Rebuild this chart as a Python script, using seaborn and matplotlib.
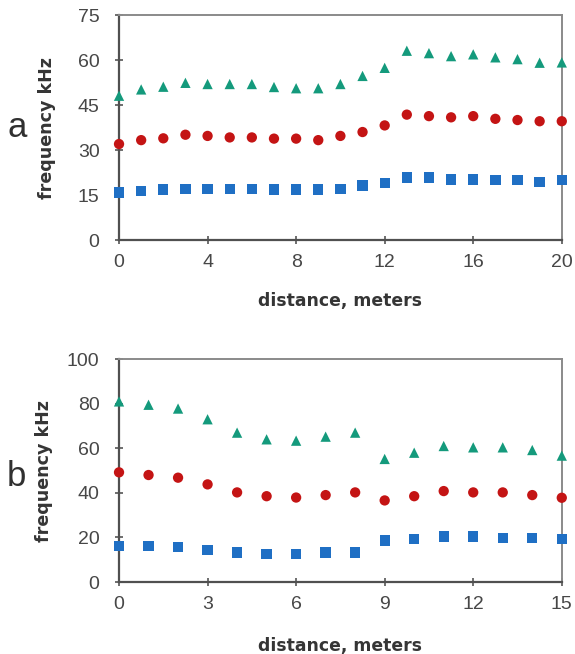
import numpy as np
import pandas as pd
import matplotlib
matplotlib.use("Agg")
import matplotlib.pyplot as plt
import seaborn as sns

# ---- data ----
dist_a = list(range(0, 21))
tri_a = [48.1, 50.2, 51.1, 52.4, 52.0, 52.0, 52.0, 51.0, 50.6, 50.6, 52.0, 54.7,
         57.4, 63.1, 62.3, 61.3, 61.9, 60.9, 60.3, 59.1, 59.2]
cir_a = [32.0, 33.3, 33.9, 35.1, 34.7, 34.2, 34.2, 33.8, 33.8, 33.3, 34.7, 36.0,
         38.2, 41.8, 41.3, 40.9, 41.3, 40.4, 40.0, 39.6, 39.6]
sq_a = [15.8, 16.3, 16.8, 17.1, 17.1, 17.1, 17.1, 16.8, 16.8, 16.8, 17.1, 18.2,
        19.0, 20.8, 20.8, 20.2, 20.2, 19.9, 19.9, 19.4, 19.9]

dist_b = list(range(0, 16))
tri_b = [81.0, 79.5, 77.8, 73.0, 67.0, 64.0, 63.4, 65.2, 67.0, 55.2, 58.0, 61.0,
         60.4, 60.4, 59.2, 56.7]
cir_b = [49.2, 48.0, 46.8, 43.8, 40.2, 38.5, 37.9, 39.0, 40.2, 36.6, 38.5, 40.8,
         40.2, 40.2, 39.0, 37.8]
sq_b = [16.2, 16.2, 15.6, 14.4, 13.2, 12.6, 12.6, 13.2, 13.2, 18.6, 19.2, 20.4,
        20.4, 19.8, 19.8, 19.2]

xticks_a = [0, 4, 8, 12, 16, 20]
yticks_a = [0, 15, 30, 45, 60, 75]
xticks_b = [0, 3, 6, 9, 12, 15]
yticks_b = [0, 20, 40, 60, 80, 100]

series = ["square", "circle", "triangle"]
colors = {"square": "#1f6fc4", "circle": "#c41414", "triangle": "#149a7c"}
markers = {"square": "s", "circle": "o", "triangle": "^"}


def long_df(dist, sq, ci, tr):
    frames = []
    for name, vals in zip(series, [sq, ci, tr]):
        frames.append(pd.DataFrame({"distance": dist, "freq": vals, "series": name}))
    return pd.concat(frames, ignore_index=True)


sns.set_theme(style="white")
plt.rcParams["font.family"] = ["Liberation Sans", "DejaVu Sans"]

fig = plt.figure(figsize=(5.75, 6.54), dpi=100)
ax_a = fig.add_axes([0.207, 0.633, 0.77, 0.344])
ax_b = fig.add_axes([0.207, 0.110, 0.77, 0.341])

panels = [
    (ax_a, long_df(dist_a, sq_a, cir_a, tri_a), xticks_a, yticks_a, "a",
     -0.142, -0.231, 0.50),
    (ax_b, long_df(dist_b, sq_b, cir_b, tri_b), xticks_b, yticks_b, "b",
     -0.149, -0.247, 0.475),
]

for ax, df, xt, yt, lab, ylab_x, xlab_y, lab_y in panels:
    sns.scatterplot(data=df, x="distance", y="freq", hue="series", style="series",
                    palette=colors, markers=markers, s=55, linewidth=0,
                    legend=False, ax=ax, clip_on=False, zorder=3)
    ax.set_xlim(xt[0], xt[-1])
    ax.set_ylim(yt[0], yt[-1])
    ax.set_xticks(xt)
    ax.set_yticks(yt)
    ax.tick_params(axis="both", direction="inout", length=6, width=1.2,
                   color="#555555", labelsize=14, labelcolor="#474747",
                   left=True, bottom=True)
    ax.tick_params(axis="x", pad=7)
    ax.tick_params(axis="y", pad=11)
    for s in ["left", "bottom"]:
        ax.spines[s].set_color("#505050")
        ax.spines[s].set_linewidth(1.6)
    for s in ["top", "right"]:
        ax.spines[s].set_color("#8a8a8a")
        ax.spines[s].set_linewidth(1.4)
    ax.set_xlabel("distance, meters", fontsize=12.4, fontweight="bold",
                  color="#353535", family=["DejaVu Sans"])
    ax.set_ylabel("frequency kHz", fontsize=12.6, fontweight="bold",
                  color="#353535", family=["DejaVu Sans"])
    ax.yaxis.set_label_coords(ylab_x, 0.5)
    ax.xaxis.set_label_coords(0.5, xlab_y)
    ax.xaxis.label.set_va("top")
    ax.text(-0.231, lab_y, lab, transform=ax.transAxes, fontsize=25,
            color="#303030", ha="center", va="center")

fig.savefig("out.png", dpi=100)
